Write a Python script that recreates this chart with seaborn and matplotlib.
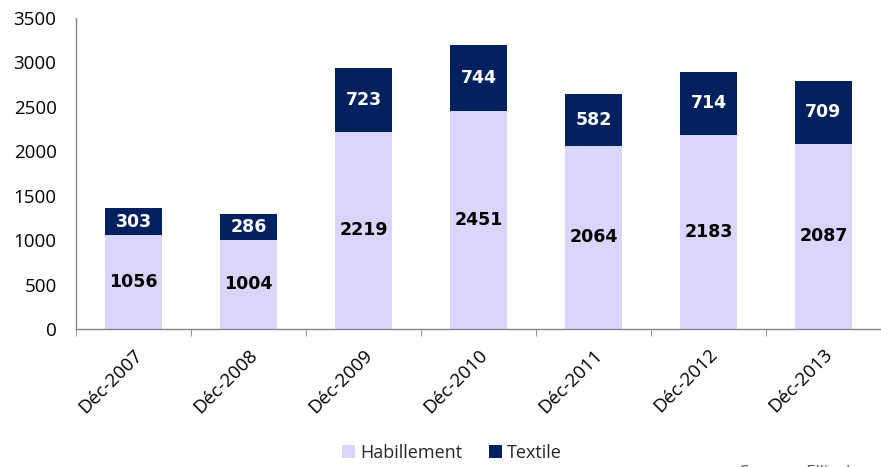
import numpy as np
import pandas as pd
import seaborn as sns
import matplotlib.pyplot as plt

# ---------------------- Data ------------------------
years = ["Déc-2007", "Déc-2008", "Déc-2009", "Déc-2010", "Déc-2011", "Déc-2012", "Déc-2013"]
habillement = [1056, 1004, 2219, 2451, 2064, 2183, 2087]
textile = [303, 286, 723, 744, 582, 714, 709]

col_hab = "#D9D5FC"
col_tex = "#002060"

# ---------------------- Plot ------------------------
sns.set_style("white")
plt.rcParams["font.family"] = ["Open Sans", "DejaVu Sans"]

fig = plt.figure(figsize=(8.81, 4.67), dpi=100)
ax = fig.add_axes([76 / 881, 1 - 329 / 467, 805 / 881, 311 / 467])

df = pd.DataFrame({"year": years, "Habillement": habillement, "Textile": textile})
df["total"] = df["Habillement"] + df["Textile"]

sns.barplot(data=df, x="year", y="total", color=col_tex, width=0.5, ax=ax,
            saturation=1, label="Textile", linewidth=0)
sns.barplot(data=df, x="year", y="Habillement", color=col_hab, width=0.5, ax=ax,
            saturation=1, label="Habillement", linewidth=0)

for i, (h, t) in enumerate(zip(habillement, textile)):
    ax.text(i, h / 2, str(h), ha="center", va="center", fontsize=12.5,
            fontweight="bold", color="black", family="DejaVu Sans")
    ax.text(i, h + t / 2, str(t), ha="center", va="center", fontsize=12.5,
            fontweight="bold", color="white", family="DejaVu Sans")

ax.set_ylim(0, 3500)
ax.set_xlim(-0.5, 6.5)
ax.set_yticks(range(0, 3501, 500))
ax.set_xlabel("")
ax.set_ylabel("")

for s in ["top", "right"]:
    ax.spines[s].set_visible(False)
for s in ["left", "bottom"]:
    ax.spines[s].set_color("#868686")
    ax.spines[s].set_linewidth(1)

# category boundary ticks
ax.set_xticks(np.arange(7))
ax.set_xticklabels(years, rotation=45, ha="right", rotation_mode="anchor",
                   fontsize=13.5, color="#000000")
ax.set_xticks(np.arange(-0.5, 7, 1), minor=True)
ax.tick_params(axis="x", which="major", length=0, pad=12)
ax.tick_params(axis="x", which="minor", length=5, color="#868686", bottom=True)
ax.tick_params(axis="y", length=0, labelsize=13.5, labelcolor="#000000", pad=14)

handles, labels = ax.get_legend_handles_labels()
if ax.get_legend() is not None:
    ax.get_legend().remove()
order = [labels.index("Habillement"), labels.index("Textile")]
fig.legend([handles[k] for k in order], [labels[k] for k in order],
           loc="center", bbox_to_anchor=(452 / 881, 1 - 453 / 467), ncol=2,
           frameon=False, fontsize=13, handlelength=0.7, handleheight=0.7,
           handletextpad=0.3, columnspacing=1.5)

fig.text(740 / 881, -0.012, "Source : Ellisphere", fontsize=12, color="#595959",
         ha="left", va="center")

fig.savefig("out.png", dpi=100)
